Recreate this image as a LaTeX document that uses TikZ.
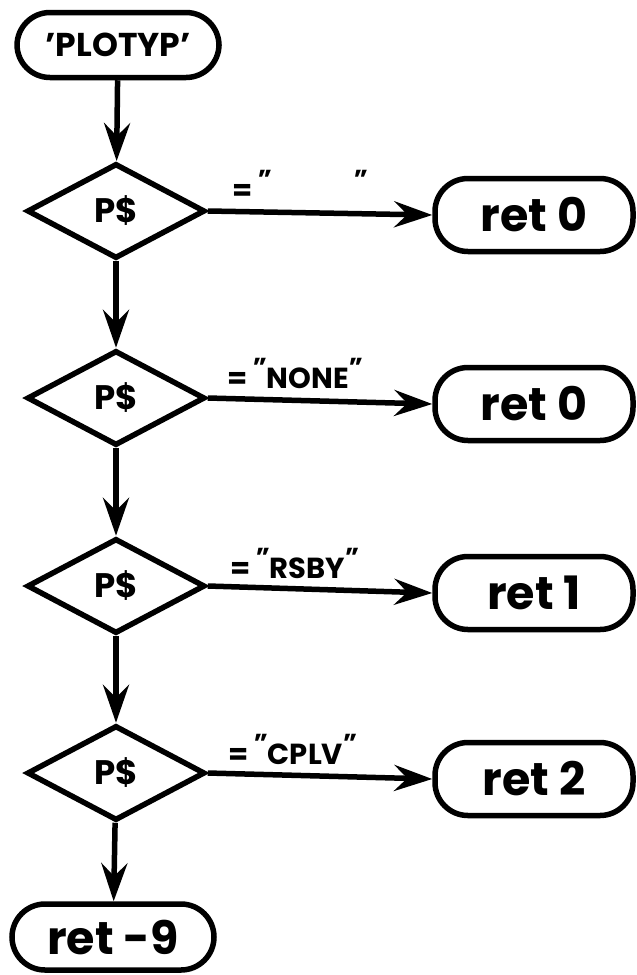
\documentclass[tikz,border=0pt]{standalone}
\usepackage{fontspec}
\setmainfont{Poppins}
\usetikzlibrary{shapes.geometric,arrows.meta}
\newcommand\myqm{\raisebox{12pt}{\fontsize{26}{26}\selectfont"}}
\begin{document}
\begin{tikzpicture}[x=1pt,y=-1pt,
  line width=5.5pt,
  term/.style={draw, rounded corners=33pt, minimum width=198pt, minimum height=73pt,
    font=\fontsize{46}{46}\selectfont\bfseries, inner sep=0pt},
  dec/.style={draw, diamond, minimum width=178pt, minimum height=95pt, inner sep=0pt,
    font=\fontsize{34}{34}\selectfont\bfseries},
  arr/.style={-{Stealth[length=38pt,width=26pt,inset=13pt]}},
  lbl/.style={font=\fontsize{29}{29}\selectfont\bfseries, inner sep=0pt, anchor=base west}
]
\useasboundingbox[fill=white] (0,0) rectangle (637,975);

\node[term, minimum width=202pt, minimum height=65pt, font=\fontsize{33}{33}\selectfont\bfseries] (start) at (118,45) {'PLOTYP'};

\node[dec] (d1) at (116,211) {P\$};
\node[dec] (d2) at (116,398) {P\$};
\node[dec] (d3) at (116,586) {P\$};
\node[dec] (d4) at (116,773) {P\$};

\node[term] (r1) at (534,215) {ret 0};
\node[term] (r2) at (534,404) {ret 0};
\node[term] (r3) at (534,593) {ret 1};
\node[term] (r4) at (534,779) {ret 2};

\node[term, minimum width=202pt, minimum height=66pt] (r5) at (113,937) {ret -9};

\draw[arr] (start) -- (d1);
\draw[arr] (d1) -- (d2);
\draw[arr] (d2) -- (d3);
\draw[arr] (d3) -- (d4);
\draw[arr] (d4) -- (r5);

\draw[arr] (d1.east) -- (r1.west);
\draw[arr] (d2.east) -- (r2.west);
\draw[arr] (d3.east) -- (r3.west);
\draw[arr] (d4.east) -- (r4.west);

\node[lbl] (l1) at (230,200) {=\,\myqm\hspace{82pt}\myqm};
\node[lbl] (l2) at (225,388) {=\,\myqm NONE\myqm};
\node[lbl] (l3) at (228,578) {=\,\myqm RSBY\myqm};
\node[lbl] (l4) at (226,764) {=\,\myqm CPLV\myqm};
\end{tikzpicture}
\end{document}
